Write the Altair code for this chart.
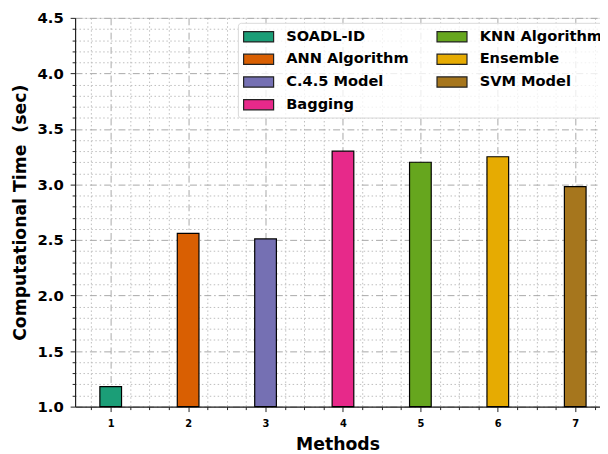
import altair as alt
import pandas as pd

methods = ["SOADL-ID", "ANN Algorithm", "C.4.5 Model", "Bagging",
           "KNN Algorithm", "Ensemble", "SVM Model"]
positions = [1, 2, 3, 4, 5, 6, 7]
times = [1.18, 2.56, 2.51, 3.30, 3.20, 3.25, 2.98]
colors = ["#1b9e77", "#d95f02", "#7570b3", "#e7298a",
          "#66a61e", "#e6ab02", "#a6761d"]

y_ticks = [1.0, 1.1, 1.2, 1.3, 1.4, 1.5, 1.6, 1.7, 1.8, 1.9, 2.0, 2.1, 2.2,
           2.3, 2.4, 2.5, 2.6, 2.7, 2.8, 2.9, 3.0, 3.1, 3.2, 3.3, 3.4, 3.5,
           3.6, 3.7, 3.8, 3.9, 4.0, 4.1, 4.2, 4.3, 4.4, 4.5]
x_ticks = [0.75, 1.0, 1.25, 1.5, 1.75, 2.0, 2.25, 2.5, 2.75, 3.0, 3.25, 3.5,
           3.75, 4.0, 4.25, 4.5, 4.75, 5.0, 5.25, 5.5, 5.75, 6.0, 6.25, 6.5,
           6.75, 7.0, 7.25]

df = pd.DataFrame({"method": methods, "pos": positions, "time": times})

font = "DejaVu Sans"
major_y = "abs(datum.value*2 - round(datum.value*2)) < 0.001"
major_x = "abs(datum.value - round(datum.value)) < 0.001"

bars = alt.Chart(df).transform_calculate(
    x0="datum.pos - 0.14", x1="datum.pos + 0.14"
).mark_bar(stroke="black", strokeWidth=1.2, opacity=1).encode(
    x=alt.X("x0:Q", scale=alt.Scale(domain=[0.54, 7.32], nice=False, zero=False),
            axis=alt.Axis(
                title="Methods", values=x_ticks,
                labelExpr="(abs(datum.value - round(datum.value)) < 0.001) ? format(datum.value, 'd') : ''",
                labelFont=font, labelFontSize=10, labelFontWeight="bold", labelColor="black",
                titleFont=font, titleFontSize=17.5, titleFontWeight="bold", titleColor="black",
                titlePadding=7, labelPadding=7,
                domainColor="#222222", domainWidth=1.2,
                tickColor="#222222",
                tickSize={"condition": {"test": major_x, "value": 5}, "value": 3},
                grid=True,
                gridColor={"condition": {"test": major_x, "value": "#a8a8a8"}, "value": "#bdbdbd"},
                gridDash={"condition": {"test": major_x, "value": [7, 3, 1.5, 3]}, "value": [1.5, 2.5]},
                gridWidth=1,
                labelFlush=False, labelOverlap=False,
            )),
    x2="x1:Q",
    y=alt.Y("time:Q", scale=alt.Scale(domain=[1.0, 4.5], nice=False, zero=False),
            axis=alt.Axis(
                title="Computational Time\u00a0\u00a0(sec)", values=y_ticks,
                labelExpr="(abs(datum.value*2 - round(datum.value*2)) < 0.001) ? format(datum.value, '.1f') : ''",
                labelFont=font, labelFontSize=15, labelFontWeight="bold", labelColor="black",
                titleFont=font, titleFontSize=17.5, titleFontWeight="bold", titleColor="black",
                titlePadding=8, labelPadding=7,
                domainColor="#222222", domainWidth=1.2,
                tickColor="#222222",
                tickSize={"condition": {"test": major_y, "value": 5}, "value": 3},
                grid=True,
                gridColor={"condition": {"test": major_y, "value": "#a8a8a8"}, "value": "#bdbdbd"},
                gridDash={"condition": {"test": major_y, "value": [7, 3, 1.5, 3]}, "value": [1.5, 2.5]},
                gridWidth=1,
                labelFlush=False, labelOverlap=False,
            )),
    y2=alt.datum(1.0),
    color=alt.Color("method:N",
                    scale=alt.Scale(domain=methods, range=colors),
                    legend=alt.Legend(
                        title=None, orient="none", legendX=165, legendY=5,
                        columns=2, columnPadding=25, rowPadding=6,
                        symbolType="M-1.9,-0.65H1.9V0.65H-1.9Z", symbolSize=256,
                        symbolOffset=7,
                        symbolStrokeColor="#222222", symbolStrokeWidth=1.2,
                        symbolOpacity=1,
                        labelFont=font, labelFontSize=14.8, labelFontWeight="bold",
                        labelColor="black", labelOffset=19,
                        fillColor="rgba(255,255,255,0.78)", strokeColor="#d8d8d8",
                        cornerRadius=3, padding=5,
                    )),
)

chart = bars.properties(
    width=532, height=394,
    autosize=alt.AutoSizeParams(type="none"),
    padding={"left": 68, "top": 7, "right": 0, "bottom": 45},
).configure_view(
    fill="#dcdcdc", stroke="#222222", strokeWidth=1.2
).configure(background="white")

chart.save("out.html", embed_options={"renderer": "svg", "actions": False})
